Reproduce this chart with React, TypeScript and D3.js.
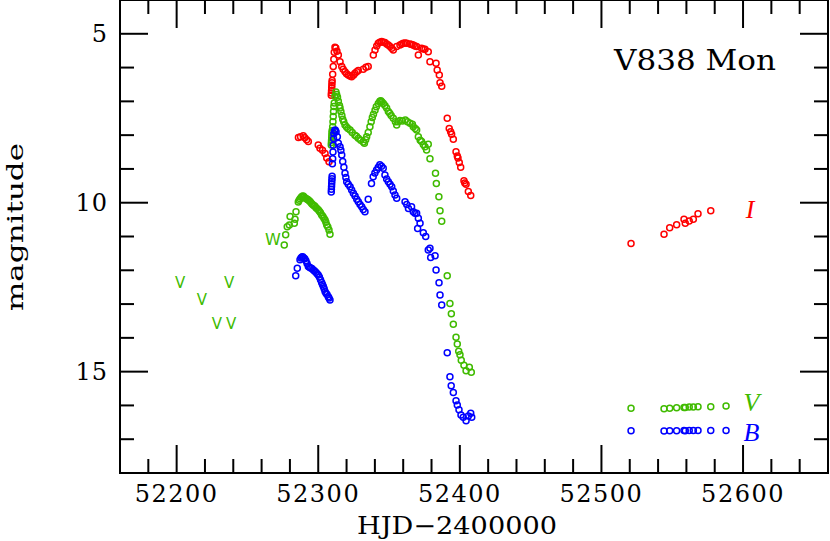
import React from "react";
import * as d3 from "d3";

// ---------- data: [HJD, magnitude] ----------
const iBand: [number, number][] = [
  [52286.0, 8.07], [52287.5, 8.05], [52289.4, 8.02], [52290.5, 8.08], [52291.8, 8.14], [52293.0, 8.19],
  [52300.0, 8.29], [52301.2, 8.39], [52303.0, 8.45], [52304.8, 8.54], [52306.0, 8.68], [52307.6, 8.79],
  [52309.2, 6.82], [52309.3, 6.75], [52309.4, 6.68], [52309.5, 6.6], [52309.6, 6.52], [52309.7, 6.45], [52309.8, 6.38],
  [52310.2, 6.2], [52310.6, 5.97], [52311.0, 5.75], [52311.3, 5.55], [52311.8, 5.4], [52312.4, 5.42], [52313.2, 5.52],
  [52314.2, 5.63], [52315.4, 5.83], [52316.6, 5.97], [52317.6, 6.05], [52318.9, 6.12], [52320.0, 6.18], [52321.2, 6.22],
  [52322.4, 6.25], [52323.6, 6.27], [52325.0, 6.22], [52325.9, 6.17], [52327.2, 6.12], [52328.3, 6.09], [52331.8, 6.05],
  [52333.7, 5.99], [52335.3, 5.97],
  [52338.9, 5.63], [52340.1, 5.48], [52341.3, 5.36], [52342.4, 5.28], [52343.5, 5.25], [52344.8, 5.23], [52346.0, 5.25],
  [52347.1, 5.26], [52348.3, 5.3], [52349.5, 5.33], [52350.7, 5.38], [52351.9, 5.43], [52353.0, 5.48], [52355.4, 5.38],
  [52357.7, 5.33], [52359.0, 5.3], [52360.1, 5.28], [52361.3, 5.27], [52362.5, 5.28], [52364.8, 5.3], [52366.0, 5.32],
  [52367.1, 5.33], [52368.3, 5.36], [52369.5, 5.38], [52370.7, 5.63], [52373.0, 5.43], [52374.2, 5.45], [52375.4, 5.46],
  [52377.7, 5.53], [52378.9, 5.83], [52383.2, 5.87], [52384.0, 6.07], [52385.5, 6.22], [52386.0, 6.45], [52387.2, 6.55],
  [52391.1, 7.5], [52392.5, 7.8], [52393.5, 7.9], [52394.2, 7.97], [52395.4, 8.12], [52397.3, 8.49], [52398.2, 8.62],
  [52398.7, 8.68], [52399.6, 8.81], [52400.6, 8.95], [52402.9, 9.35], [52403.5, 9.42], [52404.4, 9.45], [52406.0, 9.67],
  [52407.7, 9.79],
  [52520.9, 11.21], [52544.2, 10.93], [52548.2, 10.74], [52553.1, 10.65], [52558.3, 10.49], [52559.2, 10.61],
  [52562.0, 10.54], [52564.9, 10.49], [52568.2, 10.33], [52577.2, 10.24],
];

const vBand: [number, number][] = [
  [52276.0, 11.25], [52277.0, 10.95], [52278.1, 10.71], [52279.6, 10.66], [52280.1, 10.41], [52283.1, 10.61],
  [52283.6, 10.49], [52284.3, 10.27],
  [52285.9, 9.98], [52286.5, 9.93], [52287.2, 9.88], [52288.0, 9.84], [52288.7, 9.81], [52289.4, 9.8], [52290.0, 9.83],
  [52290.8, 9.86], [52291.5, 9.88], [52292.3, 9.9], [52293.0, 9.92], [52293.8, 9.95], [52294.5, 9.98], [52295.3, 10.02],
  [52296.0, 10.05], [52296.8, 10.08], [52297.5, 10.1], [52298.3, 10.14], [52299.0, 10.17], [52300.0, 10.21],
  [52300.8, 10.25], [52301.6, 10.3], [52302.4, 10.36], [52303.2, 10.4], [52304.0, 10.46], [52304.8, 10.51],
  [52305.4, 10.58], [52306.0, 10.66], [52306.8, 10.72], [52307.6, 10.81], [52308.3, 10.93],
  [52309.2, 8.29], [52309.3, 8.22], [52309.4, 8.15], [52309.5, 8.08], [52309.6, 8.0], [52309.7, 7.93], [52309.8, 7.86],
  [52310.2, 7.75], [52310.4, 7.6], [52310.6, 7.45], [52310.8, 7.3], [52311.0, 7.15], [52311.3, 7.05], [52311.8, 6.85],
  [52312.5, 6.72], [52313.0, 6.8], [52313.6, 6.88], [52314.2, 7.0], [52315.0, 7.12], [52315.4, 7.2], [52316.0, 7.3],
  [52316.7, 7.42], [52317.3, 7.53], [52318.0, 7.6], [52318.9, 7.7], [52320.0, 7.76], [52321.0, 7.8], [52322.5, 7.85],
  [52324.0, 7.92], [52325.9, 8.0], [52327.0, 8.03], [52328.3, 8.09], [52330.0, 8.15], [52331.8, 8.2], [52332.6, 8.24],
  [52333.5, 8.14], [52334.2, 8.05], [52335.3, 7.92], [52336.5, 7.75], [52337.4, 7.6], [52338.2, 7.48], [52339.0, 7.38],
  [52340.1, 7.26], [52341.0, 7.16], [52342.4, 7.06], [52343.5, 7.0], [52344.2, 6.98], [52345.0, 7.02], [52346.0, 7.06],
  [52347.1, 7.12], [52348.3, 7.2], [52349.5, 7.3], [52350.5, 7.35], [52351.5, 7.42], [52353.0, 7.5], [52354.5, 7.6],
  [52355.4, 7.7], [52356.5, 7.6], [52357.7, 7.57], [52359.5, 7.58], [52361.5, 7.55], [52363.0, 7.6], [52364.8, 7.65],
  [52366.5, 7.68], [52367.1, 7.75], [52368.5, 7.8], [52369.5, 7.85], [52370.7, 8.05], [52372.0, 8.15], [52373.0, 8.19],
  [52374.2, 8.28], [52375.4, 8.34], [52376.5, 8.44], [52377.7, 8.27], [52378.9, 8.7],
  [52382.8, 9.13], [52383.4, 9.43], [52385.2, 9.82], [52386.0, 10.24], [52387.2, 10.55],
  [52391.1, 12.16], [52393.0, 12.98], [52394.0, 13.29], [52395.4, 13.6], [52397.3, 13.98], [52398.2, 14.18],
  [52399.2, 14.4], [52400.1, 14.5], [52401.0, 14.66], [52402.9, 14.81], [52404.4, 14.97], [52406.7, 14.87],
  [52408.1, 15.02],
  [52520.9, 16.08], [52544.2, 16.1], [52548.2, 16.08], [52553.1, 16.07], [52558.3, 16.06], [52559.2, 16.06],
  [52562.0, 16.05], [52564.9, 16.05], [52568.2, 16.04], [52577.2, 16.04], [52588.0, 16.02],
];

const bBand: [number, number][] = [
  [52284.1, 12.16], [52285.2, 11.94],
  [52287.1, 11.69], [52287.8, 11.64], [52288.5, 11.61], [52289.0, 11.6], [52289.7, 11.63], [52290.5, 11.66],
  [52291.3, 11.72], [52292.1, 11.8], [52293.0, 11.89], [52293.8, 11.91], [52294.6, 11.93], [52295.5, 11.95],
  [52296.5, 11.99], [52297.4, 12.02], [52298.3, 12.06], [52299.2, 12.1], [52300.0, 12.14], [52300.8, 12.2],
  [52301.6, 12.28], [52302.4, 12.36], [52303.0, 12.42], [52303.6, 12.48], [52304.2, 12.55], [52304.8, 12.63],
  [52305.5, 12.68], [52306.2, 12.72], [52307.1, 12.78], [52307.6, 12.82], [52308.3, 12.88],
  [52309.2, 9.68], [52309.3, 9.6], [52309.4, 9.52], [52309.5, 9.44], [52309.6, 9.36], [52309.7, 9.29], [52309.8, 9.22],
  [52310.0, 8.85], [52310.2, 8.7], [52310.4, 8.5], [52310.6, 8.3], [52310.8, 8.1], [52311.0, 7.95], [52311.5, 7.87],
  [52312.0, 7.85], [52312.6, 7.9], [52313.5, 8.05], [52314.2, 8.24], [52315.4, 8.34], [52316.0, 8.45], [52316.6, 8.59],
  [52317.3, 8.78], [52318.1, 8.95], [52318.9, 9.13], [52319.5, 9.25], [52320.1, 9.38], [52321.2, 9.45], [52322.5, 9.53],
  [52323.6, 9.62], [52324.8, 9.72], [52326.0, 9.8], [52327.2, 9.9], [52328.3, 9.97], [52329.5, 10.05], [52330.7, 10.12],
  [52331.8, 10.2], [52333.0, 10.27], [52335.3, 9.9],
  [52337.6, 9.43], [52338.8, 9.23], [52340.0, 9.12], [52341.2, 9.03], [52342.4, 8.95], [52343.5, 8.88], [52344.7, 8.92],
  [52345.9, 8.98], [52347.1, 9.18], [52348.3, 9.3], [52349.5, 9.38], [52350.7, 9.45], [52351.9, 9.53], [52353.0, 9.65],
  [52354.2, 9.77], [52355.4, 9.87], [52361.3, 9.97], [52362.5, 10.05], [52363.7, 10.17], [52365.9, 10.12],
  [52367.1, 10.27], [52368.3, 10.31], [52369.5, 10.31], [52370.2, 10.76], [52370.7, 10.46], [52371.9, 10.61],
  [52374.2, 10.89], [52375.9, 11.0], [52377.7, 11.4], [52378.9, 11.35], [52379.4, 11.62], [52382.5, 11.57],
  [52383.2, 11.99], [52385.3, 12.37], [52386.0, 12.73], [52387.2, 13.03],
  [52391.1, 14.44], [52393.0, 15.15], [52393.9, 15.42], [52395.4, 15.62], [52397.3, 15.86], [52398.2, 15.99],
  [52399.4, 16.13], [52400.8, 16.28], [52402.4, 16.35], [52404.4, 16.45], [52406.0, 16.31], [52407.7, 16.23],
  [52408.4, 16.35],
  [52520.9, 16.75], [52544.2, 16.76], [52548.2, 16.75], [52553.1, 16.75], [52558.3, 16.74], [52559.2, 16.75],
  [52562.0, 16.74], [52564.9, 16.74], [52568.2, 16.74], [52577.2, 16.74], [52588.0, 16.74],
];

// pre-outburst visual estimates shown as letters
const vLimitHJD = [52202.4, 52217.9, 52237.0, 52228.5, 52238.4, 52268.0];
const vLimitMag = [12.38, 12.88, 12.38, 13.59, 13.59, 11.1];
const vLimitSym = ["v", "v", "v", "v", "v", "W"];

const xMajorTicks = [52200, 52300, 52400, 52500, 52600];
const yMajorTicks = [5, 10, 15];

const bandLabels = ["I", "V", "B"];
const bandLabelHJD = [52605, 52606, 52606];
const bandLabelMag = [10.2, 15.9, 16.8];

const RED = "#ff0000";
const GREEN = "#40bb00";
const BLUE = "#0000ff";
const bandColors = [RED, GREEN, BLUE];

export default function App() {
  const W = 830, H = 541;
  const L = 120, R = 828, T = 0, B = 473;
  const x = d3.scaleLinear().domain([52160, 52660]).range([L, R]);
  const y = d3.scaleLinear().domain([4, 18]).range([T, B]);

  const xMinor = d3.range(52180, 52660, 20).filter((v) => v % 100 !== 0);
  const yMinor = d3.range(5, 18, 1).filter((v) => v % 5 !== 0);
  const MAJ = 28, MIN = 14;
  const tickStyle = { stroke: "#000", strokeWidth: 2 };
  const numFont = "'DejaVu Serif', serif";

  const series = [iBand, vBand, bBand];

  return (
    <svg width={W} height={H} style={{ position: "absolute", left: 0, top: 0, background: "#fff" }}>
      <rect x={0} y={0} width={W} height={H} fill="#fff" />
      {/* data */}
      {series.map((data, si) => (
        <g key={si} fill="none" stroke={bandColors[si]} strokeWidth={1.5}>
          {data.map((d, i) => (
            <circle key={i} cx={x(d[0])} cy={y(d[1])} r={3} />
          ))}
        </g>
      ))}
      {vLimitHJD.map((h, i) => (
        <text key={"lim" + i} x={x(h)} y={y(vLimitMag[i])} fill={GREEN} fontFamily="'DejaVu Sans', sans-serif"
          fontSize={vLimitSym[i] === "W" ? 16 : 15} textAnchor="middle" dominantBaseline="central">
          {vLimitSym[i] === "v" ? "V" : vLimitSym[i]}
        </text>
      ))}
      {bandLabels.map((t, i) => (
        <text key={"bl" + i} x={x(bandLabelHJD[i])} y={y(bandLabelMag[i])} fill={bandColors[i]}
          fontFamily="'Liberation Serif', 'DejaVu Serif', serif" fontStyle="italic" fontSize={26}
          textAnchor="middle" dominantBaseline="central">{t}</text>
      ))}
      {/* frame */}
      <rect x={L} y={T} width={R - L} height={B - T} fill="none" stroke="#000" strokeWidth={2} />
      {/* x ticks */}
      {xMajorTicks.map((v) => (
        <g key={"xm" + v}>
          <line x1={x(v)} x2={x(v)} y1={B} y2={B - MAJ} {...tickStyle} />
          <line x1={x(v)} x2={x(v)} y1={T} y2={T + MAJ} {...tickStyle} />
          <text x={x(v)} y={502} textAnchor="middle" fontFamily={numFont} fontSize={24} letterSpacing={1.5}>{v}</text>
        </g>
      ))}
      {xMinor.map((v) => (
        <g key={"xn" + v}>
          <line x1={x(v)} x2={x(v)} y1={B} y2={B - MIN} {...tickStyle} />
          <line x1={x(v)} x2={x(v)} y1={T} y2={T + MIN} {...tickStyle} />
        </g>
      ))}
      {/* y ticks */}
      {yMajorTicks.map((v) => (
        <g key={"ym" + v}>
          <line x1={L} x2={L + MAJ} y1={y(v)} y2={y(v)} {...tickStyle} />
          <line x1={R} x2={R - MAJ} y1={y(v)} y2={y(v)} {...tickStyle} />
          <text x={108} y={y(v)} textAnchor="end" dominantBaseline="central" fontFamily={numFont} fontSize={24} letterSpacing={1}>{v}</text>
        </g>
      ))}
      {yMinor.map((v) => (
        <g key={"yn" + v}>
          <line x1={L} x2={L + MIN} y1={y(v)} y2={y(v)} {...tickStyle} />
          <line x1={R} x2={R - MIN} y1={y(v)} y2={y(v)} {...tickStyle} />
        </g>
      ))}
      {/* axis titles */}
      <text x={457} y={534} textAnchor="middle" fontFamily={numFont} fontSize={24} textLength={200} lengthAdjust="spacingAndGlyphs">HJD−2400000</text>
      <text transform="translate(23,227) rotate(-90)" textAnchor="middle" fontFamily={numFont} fontSize={23}
        textLength={168} lengthAdjust="spacingAndGlyphs">magnitude</text>
      <text x={695} y={70} textAnchor="middle" fontFamily={numFont} fontSize={27} textLength={162} lengthAdjust="spacingAndGlyphs">V838 Mon</text>
    </svg>
  );
}
